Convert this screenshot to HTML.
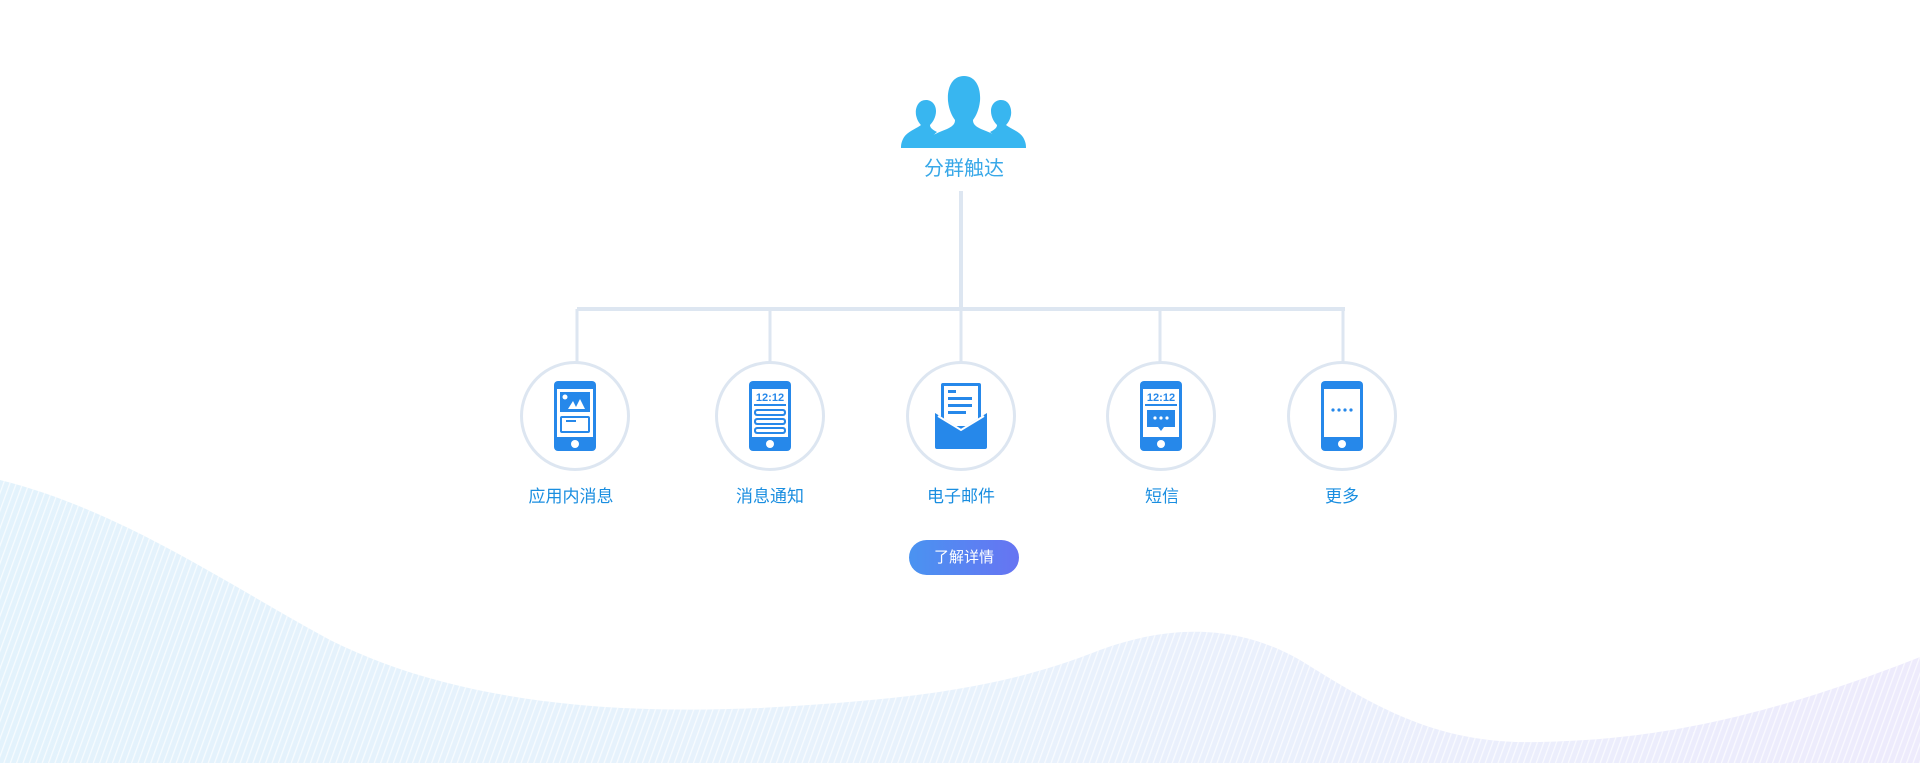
<!DOCTYPE html>
<html><head><meta charset="utf-8"><style>
html,body{margin:0;padding:0;background:#fff;width:1920px;height:763px;overflow:hidden;position:relative;font-family:"Liberation Sans","Noto Sans CJK SC",sans-serif}
.abs{position:absolute}
.lbl{position:absolute;width:200px;text-align:center;color:#1a8ee0;font-size:17px;top:482px}
.circ{position:absolute;width:104px;height:104px;border:3px solid #dde6f1;border-radius:50%;top:361px;background:#fff}
.circ svg{position:absolute;left:31px;top:17px}
.btn{position:absolute;left:909px;top:540px;width:110px;height:35px;border-radius:18px;background:linear-gradient(90deg,#4a93f1,#6774f2);color:#fff;font-size:15px;line-height:35px;text-align:center}
</style></head><body>
<svg class="abs" style="left:0;top:0" width="1920" height="763">
<defs>
<linearGradient id="wg" x1="0" x2="1" y1="0" y2="0">
<stop offset="0" stop-color="#d4ecfa"/><stop offset="0.5" stop-color="#dcebfb"/><stop offset="1" stop-color="#e4e0fb"/></linearGradient>
<pattern id="pl" width="6" height="6" patternUnits="userSpaceOnUse" patternTransform="rotate(20)"><rect width="6" height="6" fill="none"/><line x1="0" y1="0" x2="0" y2="6" stroke="#fff" stroke-width="2.5" opacity="0.7"/></pattern>
<clipPath id="wc"><path id="wp" d="M0,480 C120,510 220,580 330,640 C450,700 600,715 760,708 C900,700 1000,690 1100,650 C1160,628 1230,620 1300,660 C1380,710 1440,745 1540,742 C1650,740 1760,720 1920,657 L1920,763 L0,763 Z"/></clipPath>
</defs>
<g clip-path="url(#wc)">
<rect x="0" y="470" width="1920" height="300" fill="url(#wg)" opacity="0.65"/>
<rect x="0" y="470" width="1920" height="300" fill="url(#pl)"/>
</g>
<line x1="961" y1="191" x2="961" y2="309" stroke="#dde6f1" stroke-width="4"/>
<line x1="577" y1="309" x2="1345" y2="309" stroke="#dde6f1" stroke-width="4"/>
<g stroke="#dde6f1" stroke-width="3">
<line x1="577" y1="309" x2="577" y2="363"/><line x1="770" y1="309" x2="770" y2="363"/><line x1="961" y1="309" x2="961" y2="363"/><line x1="1160" y1="309" x2="1160" y2="363"/><line x1="1343" y1="309" x2="1343" y2="363"/>
</g>
<g fill="#38b6f0">
<path d="M926,100 c-8,0 -11,8 -10,15 c1,5 3,8 5,10 c-5,4 -15,7 -18,14 c-2,4 -2,7 -2,9 l28,0 c0,-8 4,-13 8,-16 c-4,-2 -7,-4 -7,-7 c3,-3 6,-8 6,-14 c0,-6 -4,-11 -10,-11z"/>
<path d="M1001,100 c8,0 11,8 10,15 c-1,5 -3,8 -5,10 c5,4 15,7 18,14 c2,4 2,7 2,9 l-28,0 c0,-8 -4,-13 -8,-16 c4,-2 7,-4 7,-7 c-3,-3 -6,-8 -6,-14 c0,-6 4,-11 10,-11z"/>
<path d="M964,76 c-12,0 -17,12 -16,25 c1,9 4,15 7,19 c0,4 -2,6 -8,9 c-10,4 -20,8 -22,14 c-1,2 -1,4 -1,5 l80,0 c0,-1 0,-3 -1,-5 c-2,-6 -12,-10 -22,-14 c-6,-3 -8,-5 -8,-9 c3,-4 6,-10 7,-19 c1,-13 -4,-25 -16,-25z"/>
</g>
<text x="964" y="175" text-anchor="middle" font-size="20" fill="#38a8e8" font-family="Liberation Sans, Noto Sans CJK SC, sans-serif">分群触达</text>
</svg>

<div class="circ" style="left:520px"><svg width="42" height="70" viewBox="0 0 42 70"><rect x="0" y="0" width="42" height="70" rx="4" fill="#2688ea"/><rect x="3" y="8" width="36" height="48" fill="#fff"/><rect x="6" y="11" width="30" height="20" fill="#2688ea"/><circle cx="11" cy="16" r="2.5" fill="#fff"/><path d="M14,28 l5,-8 l4,8z M21,28 l5,-10 l5,10z" fill="#fff"/><rect x="6" y="35" width="30" height="17" rx="2" fill="#2688ea"/><rect x="8" y="37" width="26" height="13" fill="#fff"/><rect x="12" y="39" width="10" height="2" fill="#2688ea"/><circle cx="21" cy="63" r="4" fill="#fff"/></svg></div>
<div class="circ" style="left:715px"><svg width="42" height="70" viewBox="0 0 42 70"><rect x="0" y="0" width="42" height="70" rx="4" fill="#2688ea"/><rect x="3" y="8" width="36" height="48" fill="#fff"/><text x="21" y="20" text-anchor="middle" font-size="11" font-weight="bold" fill="#2688ea" font-family="Liberation Sans,sans-serif">12:12</text><rect x="5" y="23" width="32" height="2" fill="#2688ea"/><g fill="#2688ea"><rect x="5" y="28" width="32" height="7" rx="3"/><rect x="5" y="37" width="32" height="7" rx="3"/><rect x="5" y="46" width="32" height="7" rx="3"/></g><g fill="#fff"><rect x="7" y="30" width="28" height="3" rx="1.5"/><rect x="7" y="39" width="28" height="3" rx="1.5"/><rect x="7" y="48" width="28" height="3" rx="1.5"/></g><circle cx="21" cy="63" r="4" fill="#fff"/></svg></div>
<div class="circ" style="left:906px"><svg width="54" height="70" viewBox="0 0 54 70" style="left:25px"><rect x="7" y="2" width="40" height="46" rx="2" fill="#2688ea"/><rect x="10" y="5" width="34" height="40" fill="#fff"/><g fill="#2688ea"><rect x="14" y="9" width="8" height="3"/><rect x="14" y="16" width="24" height="3"/><rect x="14" y="23" width="24" height="3"/><rect x="14" y="30" width="18" height="3"/></g><path d="M1,32 l0,34 a2,2 0 0 0 2,2 l48,0 a2,2 0 0 0 2,-2 l0,-34 l-26,16z" fill="#2688ea"/><path d="M4,35 l23,14 l23,-14" stroke="#fff" stroke-width="2" fill="none"/></svg></div>
<div class="circ" style="left:1106px"><svg width="42" height="70" viewBox="0 0 42 70"><rect x="0" y="0" width="42" height="70" rx="4" fill="#2688ea"/><rect x="3" y="8" width="36" height="48" fill="#fff"/><text x="21" y="20" text-anchor="middle" font-size="11" font-weight="bold" fill="#2688ea" font-family="Liberation Sans,sans-serif">12:12</text><rect x="5" y="23" width="32" height="2" fill="#2688ea"/><rect x="7" y="29" width="28" height="17" fill="#2688ea"/><path d="M18,46 l3,4 l3,-4z" fill="#2688ea"/><g fill="#fff"><circle cx="15" cy="37" r="1.6"/><circle cx="21" cy="37" r="1.6"/><circle cx="27" cy="37" r="1.6"/></g><circle cx="21" cy="63" r="4" fill="#fff"/></svg></div>
<div class="circ" style="left:1287px"><svg width="42" height="70" viewBox="0 0 42 70"><rect x="0" y="0" width="42" height="70" rx="4" fill="#2688ea"/><rect x="3" y="8" width="36" height="48" fill="#fff"/><g fill="#2688ea"><circle cx="12" cy="29" r="1.6"/><circle cx="18" cy="29" r="1.6"/><circle cx="24" cy="29" r="1.6"/><circle cx="30" cy="29" r="1.6"/></g><circle cx="21" cy="63" r="4" fill="#fff"/></svg></div>

<div class="lbl" style="left:471px">应用内消息</div>
<div class="lbl" style="left:670px">消息通知</div>
<div class="lbl" style="left:861px">电子邮件</div>
<div class="lbl" style="left:1062px">短信</div>
<div class="lbl" style="left:1242px">更多</div>
<div class="btn">了解详情</div>
</body></html>
